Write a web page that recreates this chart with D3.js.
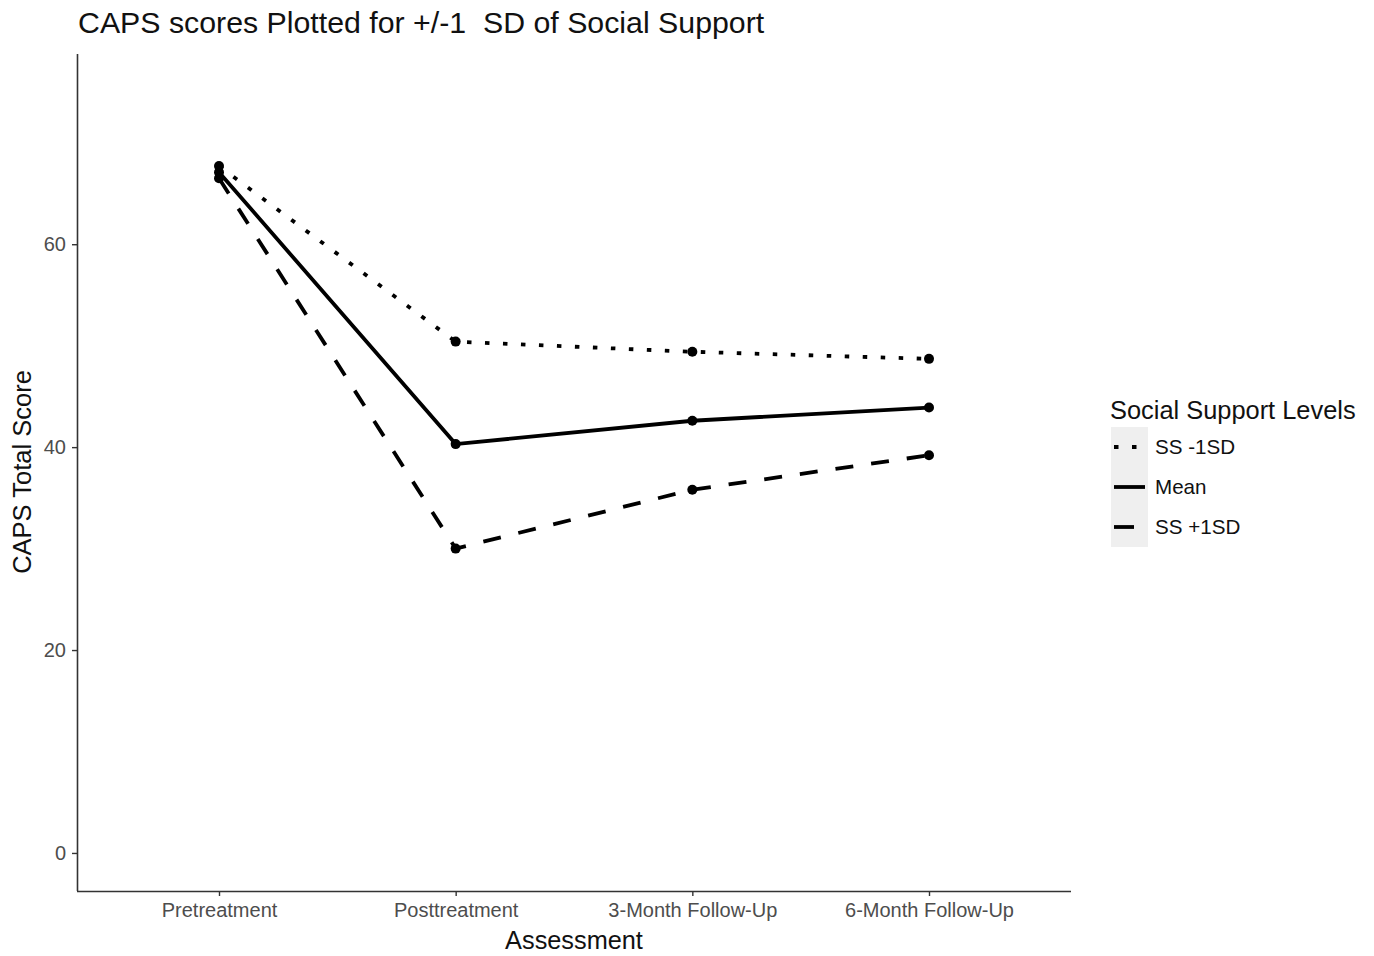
<!DOCTYPE html>
<html><head><meta charset="utf-8">
<script src="https://cdn.jsdelivr.net/npm/d3@7"></script>
<style>body{margin:0;background:#fff;} text{font-family:"Liberation Sans",Arial,sans-serif;}</style>
</head><body>
<svg id="c" width="1374" height="956"></svg>
<script>
const categories = ["Pretreatment","Posttreatment","3-Month Follow-Up","6-Month Follow-Up"];
const seriesNames = ["SS -1SD","Mean","SS +1SD"];
const ssMinus = [67.7, 50.4, 49.4, 48.7];
const meanVals = [67.1, 40.3, 42.6, 43.9];
const ssPlus = [66.5, 30.0, 35.8, 39.2];
const yTicks = [0, 20, 40, 60];
const dashes = ["4.5 13.5", null, "18 18"];
const seriesVals = [ssMinus, meanVals, ssPlus];

(function(){
const svg = d3.select("#c");
const pL = 77, pR = 1071, pT = 54, pB = 891;
const step = (pR-pL)/(categories.length - 1 + 1.2);
const x = d3.scalePoint().domain(categories).range([pL+0.6*step, pR-0.6*step]);
const y = d3.scaleLinear().domain([-3.75, 78.75]).range([pB, pT]);

// title
svg.append("text").attr("x", 78).attr("y", 33).attr("font-size", 30.3).attr("fill","#111")
  .style("white-space","pre")
  .text("CAPS scores Plotted for +/-1  SD of Social Support");

// axes
const gy = svg.append("g").attr("transform", `translate(${pL},0)`)
  .call(d3.axisLeft(y).tickValues(yTicks).tickSize(5).tickPadding(6));
const gx = svg.append("g").attr("transform", `translate(0,${pB})`)
  .call(d3.axisBottom(x).tickSize(5).tickPadding(5));
[gx, gy].forEach(g => {
  g.select(".domain").attr("stroke","#333").attr("stroke-width",1.6);
  g.selectAll(".tick line").attr("stroke","#333").attr("stroke-width",1.4);
  g.selectAll(".tick text").attr("fill","#4d4d4d").attr("font-size",20)
    .attr("font-family","Liberation Sans, Arial, sans-serif");
});
gx.select(".domain").attr("d", `M${pL},0.5H${pR}`);
gy.select(".domain").attr("d", `M0.5,${pT}V${pB}`);
gx.selectAll(".tick text").attr("dy","0.78em");

// axis titles
svg.append("text").attr("x", 574).attr("y", 949).attr("text-anchor","middle")
  .attr("font-size", 25.3).attr("fill","#111").text("Assessment");
svg.append("text").attr("transform", `translate(31,${472}) rotate(-90)`)
  .attr("text-anchor","middle").attr("font-size", 25.5).attr("fill","#111").text("CAPS Total Score");

// lines
const line = d3.line().x((d,i)=>x(categories[i])).y(d=>y(d));
seriesVals.forEach((vals, k) => {
  const p = svg.append("path").datum(vals).attr("d", line).attr("fill","none")
    .attr("stroke","#000").attr("stroke-width",3.8);
  if (dashes[k]) p.attr("stroke-dasharray", dashes[k]);
  svg.selectAll(null).data(vals).enter().append("circle")
    .attr("cx",(d,i)=>x(categories[i])).attr("cy",d=>y(d)).attr("r",5).attr("fill","#000");
});

// legend
const lg = svg.append("g");
lg.append("text").attr("x",1110).attr("y",419).attr("font-size",25.4).attr("fill","#111").text("Social Support Levels");
seriesNames.forEach((name,k) => {
  const ky = 427 + k*40;
  lg.append("rect").attr("x",1111).attr("y",ky).attr("width",37).attr("height",40).attr("fill","#efefef");
  const l = lg.append("line").attr("x1",1114).attr("x2",1145).attr("y1",ky+20).attr("y2",ky+20)
    .attr("stroke","#000").attr("stroke-width",3.8);
  if (k===0) l.attr("stroke-dasharray","4.5 13.5");
  if (k===2) l.attr("x2",1134).attr("stroke-dasharray","20 20");
  lg.append("text").attr("x",1155).attr("y",ky+27).attr("font-size",20.6).attr("fill","#111").text(name);
});
})();
</script>
</body></html>
